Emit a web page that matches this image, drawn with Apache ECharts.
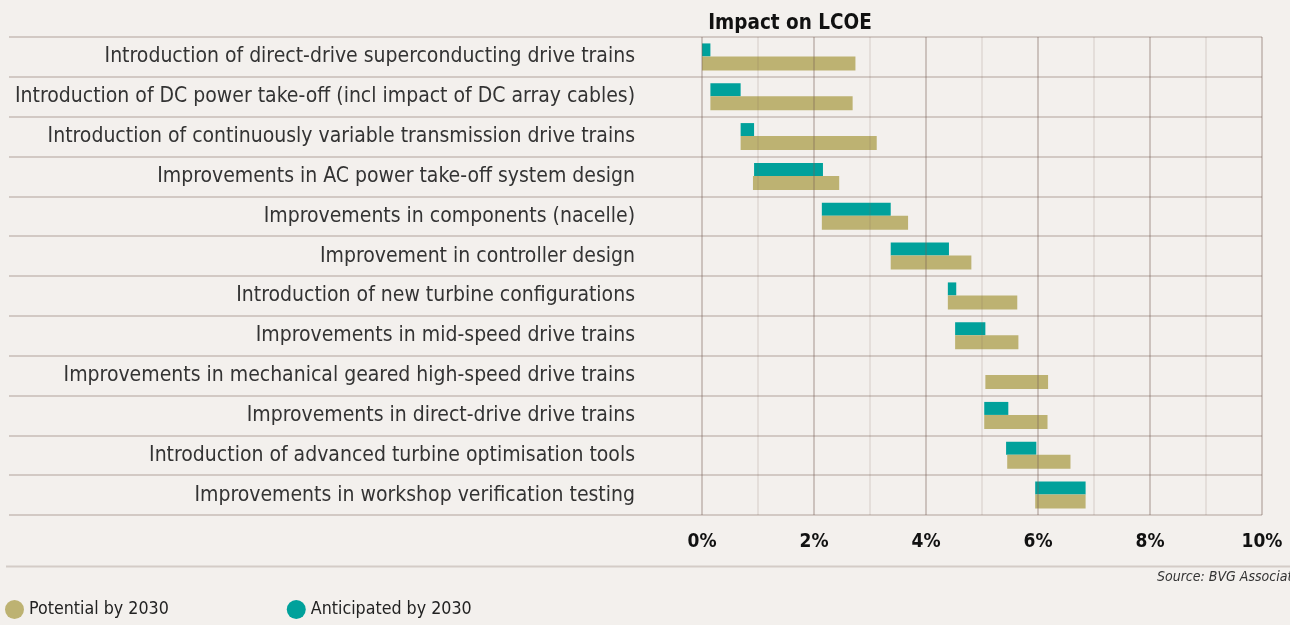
<!DOCTYPE html>
<html>
<head>
<meta charset="utf-8">
<script src="https://cdn.jsdelivr.net/npm/echarts@6/dist/echarts.min.js"></script>
<style>
  html, body { margin: 0; padding: 0; background: #f3f0ed; }
  #chart { width: 1290px; height: 625px; }
</style>
</head>
<body>
<div id="chart"></div>
<script>
// categories, top to bottom
const categories = [
  "Introduction of direct-drive superconducting drive trains",
  "Introduction of DC power take-off (incl impact of DC array cables)",
  "Introduction of continuously variable transmission drive trains",
  "Improvements in AC power take-off system design",
  "Improvements in components (nacelle)",
  "Improvement in controller design",
  "Introduction of new turbine configurations",
  "Improvements in mid-speed drive trains",
  "Improvements in mechanical geared high-speed drive trains",
  "Improvements in direct-drive drive trains",
  "Introduction of advanced turbine optimisation tools",
  "Improvements in workshop verification testing"
];
// Anticipated by 2030 (start / end, % LCOE)
const anticipatedStart = [0.00, 0.15, 0.69, 0.93, 2.14, 3.37, 4.39, 4.52, 5.06, 5.04, 5.43, 5.95];
const anticipatedEnd   = [0.15, 0.69, 0.93, 2.16, 3.37, 4.41, 4.54, 5.06, 5.06, 5.47, 5.97, 6.85];
// Potential by 2030 (start / end, % LCOE)
const potentialStart = [0.00, 0.15, 0.69, 0.91, 2.14, 3.37, 4.39, 4.52, 5.06, 5.04, 5.45, 5.95];
const potentialEnd   = [2.74, 2.69, 3.12, 2.45, 3.68, 4.81, 5.63, 5.65, 6.18, 6.17, 6.58, 6.85];
const tickValues = [0, 2, 4, 6, 8, 10];

const FONT = "'DejaVu Sans Condensed', 'Roboto', sans-serif";
const TEAL = "#00a19b";
const TAN = "#bdb272";

const diff = (a, b) => a.map((v, i) => +(v - b[i]).toFixed(3));

const chart = echarts.init(document.getElementById("chart"));
const option = {
  backgroundColor: "#f3f0ed",
  animation: false,
  textStyle: { fontFamily: FONT },
  title: {
    text: "Impact on LCOE",
    left: 785, top: 8, textAlign: "center",
    textStyle: { fontFamily: FONT, fontSize: 20.5, fontWeight: "bold", color: "#111" }
  },
  legend: {
    left: 5, top: 600, padding: 0,
    icon: "circle", itemWidth: 19, itemHeight: 19, itemGap: 118,
    data: ["Potential by 2030", "Anticipated by 2030"],
    textStyle: { fontFamily: FONT, fontSize: 17.7, color: "#222" }
  },
  graphic: [
    { type: "line", shape: { x1: 6, y1: 566.5, x2: 1290, y2: 566.5 }, style: { stroke: "#d4ccc7", lineWidth: 2 } },
    { type: "text", left: 1157, top: 570,
      style: { text: "Source: BVG Associates", fontFamily: FONT, fontSize: 14, fontStyle: "italic", fill: "#333" } }
  ],
  grid: [
    { left: 9, right: 28, top: 37, height: 478, outerBoundsMode: "none" },   // row separators across label area
    { left: 702, right: 28, top: 37, height: 478, outerBoundsMode: "none" }  // bars
  ],
  xAxis: [
    { gridIndex: 0, type: "value", show: false, min: 0, max: 10 },
    { gridIndex: 1, type: "value", min: 0, max: 10, interval: 2, z: 10,
      axisLine: { show: false }, axisTick: { show: false },
      axisLabel: { margin: 18, formatter: v => tickValues.includes(v) ? v + "%" : "",
        fontFamily: FONT, fontSize: 19, fontWeight: "bold", color: "#111" },
      splitLine: { lineStyle: { color: "rgba(120,95,85,0.22)", width: 2 } } },
    { gridIndex: 1, type: "value", min: 0, max: 10, interval: 1, z: 9,
      axisLine: { show: false }, axisTick: { show: false }, axisLabel: { show: false },
      splitLine: { lineStyle: { color: "rgba(120,95,85,0.12)", width: 2 } } }
  ],
  yAxis: [
    { gridIndex: 0, type: "category", inverse: true, data: categories,
      axisLine: { show: false }, axisTick: { show: false }, axisLabel: { show: false },
      splitLine: { show: true, lineStyle: { color: "#d2c9c4", width: 2 } } },
    { gridIndex: 1, type: "category", inverse: true, data: categories,
      axisLine: { show: false }, axisTick: { show: false },
      axisLabel: { margin: 67, fontFamily: FONT, fontSize: 21, color: "#333" } }
  ],
  series: [
    { name: "antBase", type: "bar", xAxisIndex: 1, yAxisIndex: 1, stack: "ant", barWidth: 13,
      itemStyle: { color: "transparent" }, silent: true, data: anticipatedStart },
    { name: "Anticipated by 2030", type: "bar", xAxisIndex: 1, yAxisIndex: 1, stack: "ant", barWidth: 13,
      itemStyle: { color: TEAL }, data: diff(anticipatedEnd, anticipatedStart) },
    { name: "potBase", type: "bar", xAxisIndex: 1, yAxisIndex: 1, stack: "pot", barWidth: 14, barGap: "0%",
      itemStyle: { color: "transparent" }, silent: true, data: potentialStart },
    { name: "Potential by 2030", type: "bar", xAxisIndex: 1, yAxisIndex: 1, stack: "pot", barWidth: 14, barGap: "0%",
      itemStyle: { color: TAN }, data: diff(potentialEnd, potentialStart) }
  ]
};
chart.setOption(option);
</script>
</body>
</html>
